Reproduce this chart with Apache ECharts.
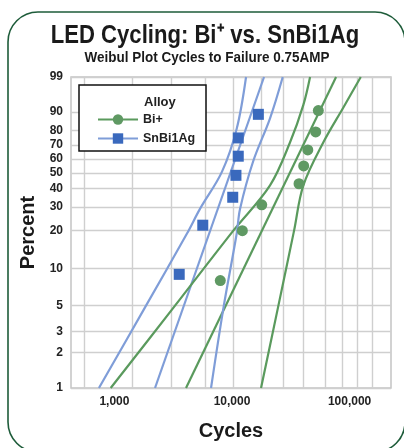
<!DOCTYPE html>
<html>
<head>
<meta charset="utf-8">
<title>LED Cycling Weibull</title>
<script src="https://cdn.jsdelivr.net/npm/echarts@6/dist/echarts.min.js"></script>
<style>
    html, body { margin: 0; padding: 0; background: #fff; }
    #main { width: 404px; height: 448px; }
</style>
</head>
<body>
<div id="main"></div>
<script>
// axis ticks
var pctTicks = [1, 2, 3, 5, 10, 20, 30, 40, 50, 60, 70, 80, 90, 99];
var cycleLabels = [1000, 10000, 100000];
var cycleGrid = [550, 1410, 3030, 5890, 10200, 17650, 27170, 40200, 61800, 86300, 115900, 155300];

// failures (cycles, percent)
var biCycles = [7950, 12240, 17900, 37150, 40700, 44100, 51500, 54200];
var biPct = [8, 20, 31, 43, 55, 66.5, 79, 90.7];
var snCycles = [3555, 5640, 10140, 10800, 11300, 11300, 16750];
var snPct = [9, 22, 35, 48.5, 62, 75, 89];

// fitted lines
var biFitCycles = [4060, 76740];
var biFitPct = [1, 99];
var snFitCycles = [2213, 18720];
var snFitPct = [1, 99];

// confidence bounds
var biLowCycles = [929, 3190, 10260, 21050, 31170, 40440, 46110];
var biLowPct = [1, 4.8, 20, 42, 72, 93, 99];
var biHighCycles = [17650, 24620, 33710, 40440, 59840, 88520, 124500];
var biHighPct = [1, 4.8, 20, 42, 72, 92, 99];
var snLowCycles = [738, 1820, 4140, 5340, 8220, 10960, 13160];
var snLowPct = [1, 4.8, 19, 29, 51, 81, 99];
var snHighCycles = [6630, 8470, 10960, 11700, 15090, 21050, 27000];
var snHighPct = [1, 4.8, 19, 29, 58, 87, 99];

// weibull probability scale and log cycles
function wb(p) {
    return Math.log(-Math.log(1 - p / 100));
}
function lg(c) {
    return Math.log10(c);
}
function pairs(cycles, pct) {
    return cycles.map(function (c, i) {
        return [lg(c), wb(pct[i])];
    });
}

var font = '"Liberation Sans", Arial, sans-serif';
var green = '#5a9a5d';
var greenDot = '#5f9963';
var blue = '#7f9dd8';
var blueDot = '#3a69bd';
var ink = '#222';

function curve(name, data, color) {
    return {
        name: name,
        type: 'line',
        data: data,
        smooth: 0.35,
        symbol: 'none',
        silent: true,
        lineStyle: { color: color, width: 2.2 }
    };
}

var myChart = echarts.init(document.getElementById('main'));

var option = {
    animation: false,
    backgroundColor: '#fff',
    legend: {
        data: ['Bi+', 'SnBi1Ag'],
        orient: 'vertical',
        left: 97,
        top: 113,
        padding: 0,
        itemWidth: 40,
        itemHeight: 13,
        itemGap: 6,
        selectedMode: false,
        textStyle: { fontFamily: font, fontWeight: 'bold', fontSize: 12.5, color: ink }
    },
    grid: {
        left: 71,
        right: 13,
        top: 77,
        bottom: 60,
        show: true,
        borderColor: '#c4c4c4',
        borderWidth: 1.5
    },
    xAxis: {
        type: 'value',
        min: lg(427),
        max: lg(225000),
        axisLine: { show: false },
        axisTick: { show: false, customValues: cycleGrid.map(lg) },
        splitLine: { show: true, lineStyle: { color: '#cfcfcf', width: 1.4 } },
        axisLabel: {
            customValues: cycleLabels.map(lg),
            formatter: function (v) {
                return Math.round(Math.pow(10, v)).toLocaleString('en-US');
            },
            margin: 8,
            fontFamily: font,
            fontWeight: 'bold',
            fontSize: 12,
            color: ink
        },
        name: 'Cycles',
        nameLocation: 'middle',
        nameGap: 33,
        nameTextStyle: { fontFamily: font, fontWeight: 'bold', fontSize: 20, color: '#1a1a1a' }
    },
    yAxis: {
        type: 'value',
        min: wb(1),
        max: wb(99),
        axisLine: { show: false },
        axisTick: { show: false, customValues: pctTicks.map(wb) },
        splitLine: { show: true, lineStyle: { color: '#cfcfcf', width: 1.4 } },
        axisLabel: {
            customValues: pctTicks.map(wb),
            formatter: function (v) {
                return Math.round(100 * (1 - Math.exp(-Math.exp(v))));
            },
            margin: 8,
            fontFamily: font,
            fontWeight: 'bold',
            fontSize: 12,
            color: ink
        },
        name: 'Percent',
        nameLocation: 'middle',
        nameGap: 30,
        nameRotate: 90,
        nameTextStyle: { fontFamily: font, fontWeight: 'bold', fontSize: 20, color: '#1a1a1a' }
    },
    graphic: [
        {
            type: 'rect',
            silent: true,
            shape: { x: 8, y: 12, width: 397, height: 440, r: 30 },
            style: { fill: 'none', stroke: '#1e5c3a', lineWidth: 1.6 }
        },
        // 标题 (condensed look via scaleX)
        {
            type: 'text',
            silent: true,
            x: 205,
            y: 36,
            scaleX: 0.85,
            style: {
                text: 'LED Cycling: Bi\u207A vs. SnBi1Ag',
                fontFamily: font, fontWeight: 'bold', fontSize: 26, fill: '#1a1a1a',
                align: 'center', verticalAlign: 'middle'
            }
        },
        {
            type: 'text',
            silent: true,
            x: 207,
            y: 58,
            scaleX: 0.93,
            style: {
                text: 'Weibul Plot Cycles to Failure 0.75AMP',
                fontFamily: font, fontWeight: 'bold', fontSize: 14.5, fill: '#1a1a1a',
                align: 'center', verticalAlign: 'middle'
            }
        },
        // 图例框
        {
            type: 'rect',
            silent: true,
            z: 3,
            shape: { x: 79, y: 85, width: 127, height: 66 },
            style: { fill: '#fff', stroke: '#111', lineWidth: 1.5 }
        },
        {
            type: 'text',
            silent: true,
            z: 10,
            left: 144,
            top: 96,
            style: { text: 'Alloy', fontFamily: font, fontWeight: 'bold', fontSize: 13, fill: ink }
        }
    ],
    series: [
        {
            name: 'Bi+',
            type: 'line',
            data: pairs(biFitCycles, biFitPct),
            symbol: 'circle',
            showSymbol: false,
            silent: true,
            itemStyle: { color: greenDot },
            lineStyle: { color: green, width: 2.2 }
        },
        {
            name: 'SnBi1Ag',
            type: 'line',
            data: pairs(snFitCycles, snFitPct),
            symbol: 'rect',
            showSymbol: false,
            silent: true,
            itemStyle: { color: blueDot },
            lineStyle: { color: blue, width: 2.2 }
        },
        curve('Bi+ lower', pairs(biLowCycles, biLowPct), green),
        curve('Bi+ upper', pairs(biHighCycles, biHighPct), green),
        curve('SnBi1Ag lower', pairs(snLowCycles, snLowPct), blue),
        curve('SnBi1Ag upper', pairs(snHighCycles, snHighPct), blue),
        {
            name: 'Bi+',
            type: 'scatter',
            data: pairs(biCycles, biPct),
            symbol: 'circle',
            symbolSize: 11,
            itemStyle: { color: greenDot, opacity: 1 },
            z: 5
        },
        {
            name: 'SnBi1Ag',
            type: 'scatter',
            data: pairs(snCycles, snPct),
            symbol: 'rect',
            symbolSize: 11,
            itemStyle: { color: blueDot, opacity: 1 },
            z: 5
        }
    ]
};
myChart.setOption(option);
</script>
</body>
</html>
